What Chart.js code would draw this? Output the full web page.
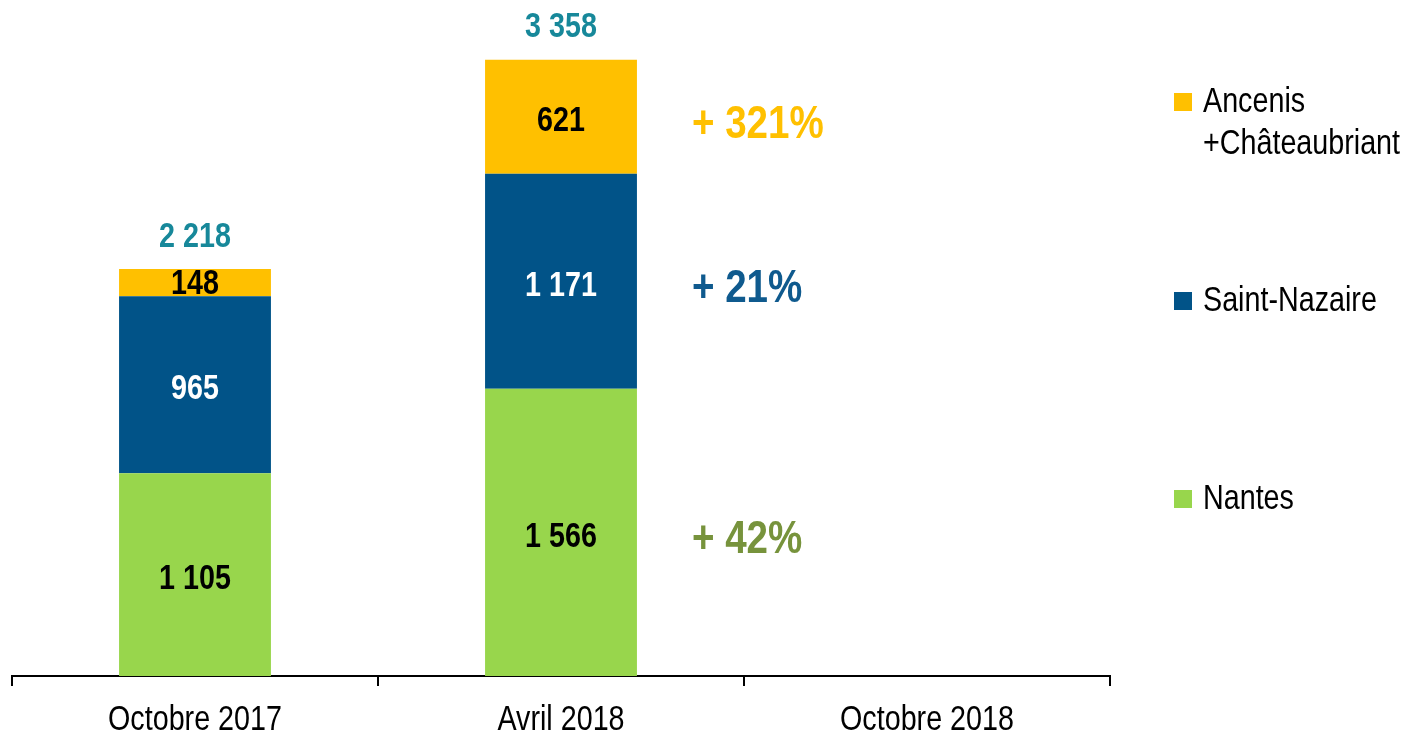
<!DOCTYPE html>
<html lang="fr">
<head>
    <meta charset="UTF-8">
    <title>Répartition par territoire</title>
    <script src="https://cdn.jsdelivr.net/npm/chart.js@4/dist/chart.umd.min.js"></script>
    <style>
        html, body {
            margin: 0;
            padding: 0;
            background: #ffffff;
        }
        #graphique {
            display: block;
        }
    </style>
</head>
<body>
    <canvas id="graphique" width="1408" height="736"></canvas>

    <script>
        const FONT = '"Liberation Sans", Arial, sans-serif';
        const ETROIT = 0.82; // pas d'Arial Narrow installée : on resserre Liberation Sans

        const periodes = ['Octobre 2017', 'Avril 2018', 'Octobre 2018'];
        const nantes = [1105, 1566, null];
        const saintNazaire = [965, 1171, null];
        const ancenis = [148, 621, null];
        const totaux = [2218, 3358, null];
        const evolutions = ['+ 42%', '+ 21%', '+ 321%'];   // même ordre que les séries

        const series = [
            { label: 'Nantes', data: nantes, color: '#98D64C', texte: '#000000', evol: '#77933C' },
            { label: 'Saint-Nazaire', data: saintNazaire, color: '#015388', texte: '#ffffff', evol: '#0F5A8E' },
            { label: 'Ancenis\n+Châteaubriant', data: ancenis, color: '#FFC000', texte: '#000000', evol: '#FFC000' }
        ];

        // positions verticales de la légende (centre de chaque carré)
        const legendeY = [499, 301, 102];

        function formatNombre(n) {
            return String(n).replace(/\B(?=(\d{3})+(?!\d))/g, ' ');
        }

        function texte(ctx, txt, x, y, font, couleur, align) {
            ctx.save();
            ctx.translate(x, y);
            ctx.scale(ETROIT, 1);
            ctx.font = font;
            ctx.fillStyle = couleur;
            ctx.textAlign = align;
            ctx.textBaseline = 'middle';
            ctx.fillText(txt, 0, 0);
            ctx.restore();
        }

        const etiquettes = {
            id: 'etiquettes',
            afterDraw(chart) {
                const ctx = chart.ctx;

                chart.data.datasets.forEach((ds, i) => {
                    const meta = chart.getDatasetMeta(i);
                    meta.data.forEach((bar, j) => {
                        const v = ds.data[j];
                        if (v === null || v === undefined) return;
                        const milieu = (bar.y + bar.base) / 2;
                        const decal = (bar.base - bar.y) > 60 ? 5 : 2;
                        texte(ctx, formatNombre(v), bar.x, milieu + decal, 'bold 35px ' + FONT, series[i].texte, 'center');

                        // évolution à droite de la dernière barre remplie
                        if (j === 1) {
                            texte(ctx, evolutions[i], bar.x + bar.width / 2 + 55, milieu + 8,
                                'bold 47px ' + FONT, series[i].evol, 'left');
                        }
                    });
                });

                // totaux au-dessus des piles
                const dernier = chart.getDatasetMeta(chart.data.datasets.length - 1);
                dernier.data.forEach((bar, j) => {
                    if (totaux[j] === null) return;
                    texte(ctx, formatNombre(totaux[j]), bar.x, bar.y - 32, 'bold 35px ' + FONT, '#17889A', 'center');
                });

                // libellés de l'axe x
                const sx = chart.scales.x;
                periodes.forEach((p, j) => {
                    texte(ctx, p, sx.getPixelForTick(j), 720, '35px ' + FONT, '#000000', 'center');
                });

                // légende
                series.forEach((s, i) => {
                    const y = legendeY[i];
                    ctx.fillStyle = s.color;
                    ctx.fillRect(1174, y - 9, 18, 18);
                    s.label.split('\n').forEach((ligne, k) => {
                        texte(ctx, ligne, 1203, y + k * 42, '35px ' + FONT, '#000000', 'left');
                    });
                });
            }
        };

        new Chart(document.getElementById('graphique'), {
            type: 'bar',
            data: {
                labels: periodes,
                datasets: series.map(s => ({
                    label: s.label,
                    data: s.data,
                    backgroundColor: s.color,
                    borderWidth: 0,
                    categoryPercentage: 1,
                    barPercentage: 0.415
                }))
            },
            options: {
                responsive: false,
                animation: false,
                layout: {
                    padding: { left: 12, right: 298, top: 0, bottom: 50 }
                },
                plugins: {
                    legend: { display: false },
                    tooltip: { enabled: false }
                },
                scales: {
                    x: {
                        stacked: true,
                        offset: true,
                        border: { display: true, color: '#000000', width: 2 },
                        grid: {
                            display: true,
                            offset: true,
                            drawOnChartArea: false,
                            drawTicks: true,
                            tickLength: 10,
                            color: '#000000',
                            lineWidth: 2
                        },
                        ticks: {
                            display: false
                        }
                    },
                    y: {
                        stacked: true,
                        display: false,
                        min: 0,
                        max: 3684
                    }
                }
            },
            plugins: [etiquettes]
        });
    </script>
</body>
</html>
